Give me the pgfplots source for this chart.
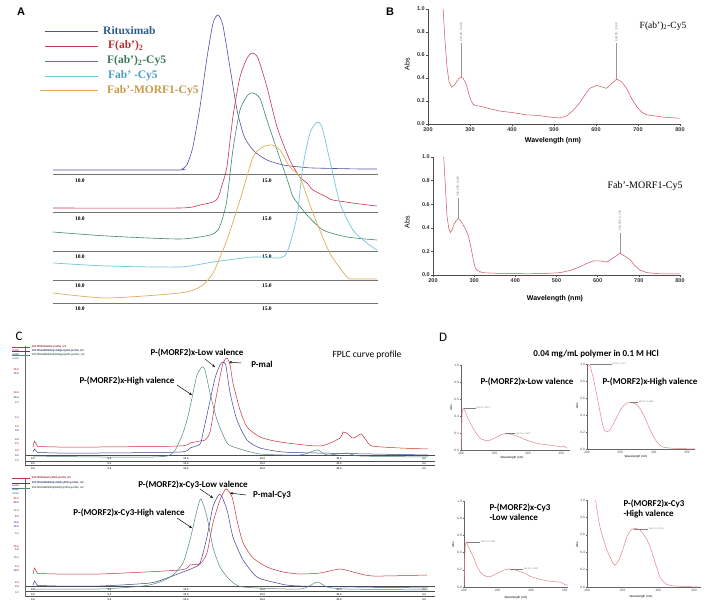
\documentclass[border=0pt]{standalone}
\usepackage{pgfplots}
\pgfplotsset{compat=1.18}
\usepackage{fontspec}
\setmainfont{Liberation Serif}
\newfontfamily\ari{Liberation Sans}
\newfontfamily\calf{Carlito}
\usetikzlibrary{arrows.meta}
\definecolor{aBlue}{HTML}{5050A8}
\definecolor{aRed}{HTML}{C8384E}
\definecolor{aGreen}{HTML}{3E8A6C}
\definecolor{aCyan}{HTML}{74C6DA}
\definecolor{aOrange}{HTML}{E2AE58}
\definecolor{tBlue}{HTML}{2F5E8C}
\definecolor{tRed}{HTML}{B83030}
\definecolor{tGreen}{HTML}{3A7A5A}
\definecolor{tCyan}{HTML}{4A9EC4}
\definecolor{tOrange}{HTML}{C89A48}
\definecolor{bCurve}{HTML}{D05060}
\definecolor{cRed}{HTML}{C8303C}
\definecolor{cBlue}{HTML}{404098}
\definecolor{cGreen}{HTML}{4E8A78}
\definecolor{dCurve}{HTML}{E8848C}
\pgfplotsset{
 bstyle/.style={scale only axis, anchor=south west, xmin=200, xmax=800, ymin=0, ymax=1,
   axis x line=bottom, axis y line=left, axis line style={-, black!70, line width=0.5pt},
   xtick={200,300,...,800}, ytick={0,0.2,0.4,0.6,0.8,1.0}, tick align=outside, major tick length=2pt,
   tick style={black!70, line width=0.4pt},
   yticklabel style={/pgf/number format/.cd, fixed, fixed zerofill, precision=1},
   tick label style={font=\ari\bfseries\fontsize{5.5}{6}\selectfont, text=black!80, inner sep=1pt},
   /pgf/number format/assume math mode=true, clip=false},
 dstyle/.style={scale only axis, anchor=south west, ymin=0, ymax=1,
   axis x line=bottom, axis y line=left, axis line style={-, black!60, line width=0.4pt},
   xtick={200,250,300,350}, ytick={0,0.2,0.4,0.6,0.8,1.0}, tick align=outside, major tick length=1.2pt,
   tick style={black!60, line width=0.3pt},
   yticklabel style={/pgf/number format/.cd, fixed, fixed zerofill, precision=1},
   tick label style={font=\ari\fontsize{3.2}{3.2}\selectfont, text=black!70, inner sep=0.8pt},
   /pgf/number format/assume math mode=true, clip=false},
}
\newcommand{\tinyb}{\ari\bfseries\fontsize{2.6}{3}\selectfont}
\begin{document}
\begin{tikzpicture}[x=1pt,y=1pt]
\fill[white] (0,0) rectangle (707,610);

%================ Panel A =================
\begin{axis}[scale only axis, anchor=south west, at={(53pt,298pt)}, width=325pt, height=312pt,
  xmin=9.28, xmax=17.97, ymin=-312, ymax=0, axis lines=none, clip=false]
\pgfplotsinvokeforeach{174,212,251,280,303}{
  \addplot[black!55, line width=0.6pt] coordinates {(9.28,-#1) (17.97,-#1)};
}
\pgfplotsinvokeforeach{181,219,257,286,309}{
  \node[font=\bfseries\fontsize{5.5}{6}\selectfont] at (axis cs:10,-#1) {10.0};
  \node[font=\bfseries\fontsize{5.5}{6}\selectfont] at (axis cs:15,-#1) {15.0};
}
\addplot[aBlue, line width=0.6pt, smooth, tension=0.4] coordinates {
(9.28,-170)(12.60,-170)(12.73,-169)(12.86,-165)(13.02,-147)(13.21,-107)(13.40,-57)(13.56,-23)(13.69,-15)(13.82,-25)(14.01,-67)(14.20,-110)(14.36,-133)(14.47,-142)(14.68,-152)(15.00,-160)(15.43,-165)(15.88,-167)(16.23,-168)(17.49,-169)(17.94,-169)};
\addplot[aRed, line width=0.6pt, smooth, tension=0.4] coordinates {
(9.28,-208)(12.67,-208)(13.21,-205)(13.56,-202)(13.69,-198)(13.80,-185)(13.93,-167)(14.09,-117)(14.28,-77)(14.47,-58)(14.60,-53)(14.76,-58)(15.00,-87)(15.27,-127)(15.61,-160)(15.88,-177)(16.07,-183)(16.23,-190)(16.60,-197)(16.76,-200)(17.49,-204)(17.94,-206)};
\addplot[aGreen, line width=0.6pt, smooth, tension=0.4] coordinates {
(9.28,-232)(10.72,-236)(12.67,-239)(13.48,-235)(13.69,-230)(13.80,-220)(13.93,-200)(14.09,-150)(14.28,-110)(14.49,-95)(14.63,-93)(14.81,-98)(15.00,-120)(15.27,-150)(15.61,-187)(15.70,-197)(16.07,-215)(16.50,-230)(17.14,-237)(17.94,-240)};
\addplot[aCyan, line width=0.7pt, smooth, tension=0.4] coordinates {
(9.28,-263)(10.72,-266)(12.67,-267)(13.56,-262)(14.63,-257)(15.27,-258)(15.53,-253)(15.80,-217)(15.96,-167)(16.15,-133)(16.34,-122)(16.47,-127)(16.68,-160)(16.95,-203)(17.30,-230)(17.67,-243)(17.94,-250)};
\addplot[aOrange, line width=0.7pt, smooth, tension=0.4] coordinates {
(9.28,-293)(10.72,-298)(12.67,-293)(13.21,-287)(13.56,-273)(13.93,-240)(14.28,-200)(14.63,-157)(14.89,-147)(15.13,-145)(15.35,-150)(15.61,-167)(15.88,-177)(16.23,-213)(16.68,-253)(17.14,-277)(17.30,-279)(17.94,-279)};
\end{axis}
\node[font=\ari\bfseries\fontsize{11}{11}\selectfont] at (21,{610-12}) {A};
\draw[aBlue, line width=0.6pt] (45,{610-31}) -- (98,{610-31});
\draw[aRed, line width=0.6pt] (45,{610-46}) -- (98,{610-46});
\draw[aGreen, line width=0.6pt] (45,{610-61}) -- (98,{610-61});
\draw[aCyan, line width=0.6pt] (45,{610-76}) -- (98,{610-76});
\draw[aOrange, line width=0.6pt] (40,{610-90}) -- (98,{610-90});
\begin{scope}[every node/.style={anchor=west, inner sep=0pt, font=\bfseries\fontsize{11.5}{12}\selectfont}]
\node[text=tBlue] at (103,{610-31}) {Rituximab};
\node[text=tRed] at (108,{610-46}) {F(ab')\textsubscript{2}};
\node[text=tGreen] at (107,{610-61}) {F(ab')\textsubscript{2}-Cy5};
\node[text=tCyan] at (108,{610-76}) {Fab' -Cy5};
\node[text=tOrange] at (107,{610-91}) {Fab'-MORF1-Cy5};
\end{scope}

%================ Panel B =================
\node[font=\ari\bfseries\fontsize{11}{11}\selectfont] at (390,{610-12}) {B};
\begin{axis}[bstyle, at={(428pt,486pt)}, width=252pt, height=115pt]
\addplot[bCurve, line width=0.5pt] coordinates {
(236,1.0)(240,0.75)(245,0.5)(250,0.37)(256,0.32)(260,0.33)(265,0.35)(270,0.38)(275,0.40)(279,0.405)(283,0.40)(288,0.37)(293,0.32)(298,0.25)(303,0.20)(308,0.17)(315,0.16)(330,0.15)(350,0.13)(375,0.11)(400,0.10)(434,0.08)(460,0.075)(490,0.06)(514,0.052)(530,0.07)(546,0.12)(560,0.18)(575,0.26)(585,0.31)(601,0.335)(612,0.325)(625,0.31)(637,0.35)(649,0.39)(660,0.37)(673,0.31)(685,0.22)(697,0.15)(710,0.10)(721,0.08)(740,0.07)(760,0.06)(780,0.055)(800,0.05)};
\draw[gray!80, line width=0.5pt] (axis cs:279,0.405) -- (axis cs:279,0.70);
\draw[gray!80, line width=0.5pt] (axis cs:649,0.39) -- (axis cs:649,0.70);
\node[rotate=90, anchor=west, inner sep=0.5pt, text=gray, font=\ari\fontsize{3}{3}\selectfont] at (axis cs:279,0.71) {278.00, 0.408};
\node[rotate=90, anchor=west, inner sep=0.5pt, text=gray, font=\ari\fontsize{3}{3}\selectfont] at (axis cs:649,0.71) {648.00, 0.388};
\end{axis}
\node[rotate=90, font=\ari\fontsize{7}{7}\selectfont] at (407,{610-64}) {Abs};
\node[font=\ari\bfseries\fontsize{7}{7}\selectfont] at (553,{610-141}) {Wavelength (nm)};
\node[font=\fontsize{9.5}{10}\selectfont] at (663,{610-26}) {F(ab')\textsubscript{2}-Cy5};

\begin{axis}[bstyle, at={(433pt,335pt)}, width=247pt, height=118pt]
\addplot[bCurve, line width=0.5pt] coordinates {
(226,1.0)(230,0.75)(234,0.5)(238,0.40)(242,0.36)(246,0.38)(250,0.42)(256,0.46)(261,0.48)(267,0.46)(274,0.42)(280,0.38)(286,0.33)(293,0.22)(299,0.11)(303,0.06)(307,0.04)(320,0.02)(347,0.015)(400,0.012)(428,0.01)(470,0.012)(509,0.02)(535,0.04)(557,0.07)(575,0.10)(590,0.12)(605,0.12)(622,0.11)(640,0.15)(654,0.185)(666,0.16)(679,0.13)(690,0.08)(703,0.04)(720,0.02)(751,0.01)(800,0.01)};
\draw[gray!80, line width=0.5pt] (axis cs:261,0.48) -- (axis cs:261,0.65);
\draw[gray!80, line width=0.5pt] (axis cs:654,0.19) -- (axis cs:654,0.36);
\node[rotate=90, anchor=west, inner sep=0.5pt, text=gray, font=\ari\fontsize{3}{3}\selectfont] at (axis cs:261,0.66) {260.000, 0.482};
\node[rotate=90, anchor=west, inner sep=0.5pt, text=gray, font=\ari\fontsize{3}{3}\selectfont] at (axis cs:654,0.37) {654.000, 0.190};
\end{axis}
\node[rotate=90, font=\ari\fontsize{7}{7}\selectfont] at (407,{610-222}) {Abs};
\node[font=\ari\bfseries\fontsize{7}{7}\selectfont] at (555,{610-299}) {Wavelength (nm)};
\node[font=\fontsize{10}{10}\selectfont] at (645,{610-186}) {Fab'-MORF1-Cy5};

%================ Panel C =================
\node[font=\calf\fontsize{13}{13}\selectfont] at (19,{610-336}) {C};
\begin{axis}[scale only axis, anchor=south west, at={(25pt,0pt)}, width=410pt, height=280pt,
  xmin=-0.52, xmax=26.27, ymin=-610, ymax=-330, axis lines=none, clip=false]
\pgfplotsinvokeforeach{455,461,465,586,591,596}{
  \addplot[black!70, line width=0.4pt] coordinates {(-0.52,-#1) (26.27,-#1)};
}
\pgfplotsinvokeforeach{458.5,463.5,468.5,589.5,594.5,599.5}{
  \node[font=\tinyb, text=black!80] at (axis cs:0,-#1) {0.0};
  \node[font=\tinyb, text=black!80] at (axis cs:5,-#1) {5.0};
  \node[font=\tinyb, text=black!80] at (axis cs:10,-#1) {10.0};
  \node[font=\tinyb, text=black!80] at (axis cs:15,-#1) {15.0};
  \node[font=\tinyb, text=black!80] at (axis cs:20,-#1) {20.0};
  \node[font=\tinyb, text=black!80] at (axis cs:25.55,-#1) {ml};
}
% injection spikes (straight segments)
\addplot[cRed, line width=0.5pt] coordinates {(0,-447)(0.1,-441)(0.3,-446.5)(1.5,-447)};
\addplot[cBlue, line width=0.5pt] coordinates {(0,-452)(0.1,-449)(0.3,-452.5)(1.5,-453)};
\addplot[cRed, line width=0.5pt] coordinates {(0,-574)(0.1,-568)(0.3,-573.5)(1.5,-574)};
\addplot[cBlue, line width=0.5pt] coordinates {(0,-585)(0.1,-581)(0.3,-585.5)(1.5,-586)};
% top chromatograms
\addplot[cRed, line width=0.5pt, smooth, tension=0.4] coordinates {
(1.5,-447)(4.38,-447)(9.61,-446)(10.26,-443)(10.92,-441)(11.24,-440)(11.57,-432)(11.90,-403)(12.22,-377)(12.42,-363)(12.68,-358)(12.88,-365)(13.07,-383)(13.53,-410)(13.99,-427)(14.84,-437)(16.14,-442)(18.76,-446)(20.07,-438)(20.26,-432)(20.59,-434)(20.85,-438)(21.11,-437)(21.44,-434)(21.76,-440)(22.16,-446)(23.99,-448)(25.82,-449)};
\addplot[cBlue, line width=0.5pt, smooth, tension=0.4] coordinates {
(1.5,-453)(4.38,-453)(9.61,-452)(10.26,-448)(10.92,-444)(11.11,-433)(11.44,-410)(11.90,-378)(12.22,-365)(12.42,-362)(12.61,-366)(12.88,-393)(13.33,-420)(13.99,-440)(14.84,-448)(16.34,-452)(18.56,-453)(25.82,-455)};
\addplot[cGreen, line width=0.5pt, smooth, tension=0.4] coordinates {
(0,-456)(4.38,-457)(8.76,-456)(9.61,-440)(10.07,-420)(10.46,-393)(10.72,-375)(11.05,-367)(11.24,-370)(11.57,-393)(12.03,-420)(12.68,-443)(13.33,-448)(14.84,-454)(17.45,-455)(18.56,-450)(19.22,-455)(20.52,-453)(21.37,-456)(25.82,-457)};
% bottom chromatograms
\addplot[cRed, line width=0.5pt, smooth, tension=0.4] coordinates {
(1.5,-574)(4.38,-574)(9.61,-570)(10.26,-565)(10.92,-564)(11.37,-553)(11.76,-523)(12.22,-500)(12.61,-489)(13.01,-497)(13.33,-520)(13.73,-543)(14.38,-558)(15.29,-567)(16.34,-572)(17.45,-574)(18.76,-573)(20.07,-569)(20.92,-572)(22.22,-576)(25.75,-575)};
\addplot[cBlue, line width=0.5pt, smooth, tension=0.4] coordinates {
(1.5,-586)(4.38,-586)(7.65,-583)(8.76,-578)(9.80,-572)(10.46,-568)(10.92,-563)(11.37,-537)(11.76,-507)(12.22,-494)(12.68,-510)(13.07,-537)(13.73,-560)(14.64,-577)(15.95,-583)(17.45,-586)(25.82,-588)};
\addplot[cGreen, line width=0.5pt, smooth, tension=0.4] coordinates {
(0,-589)(4.38,-589)(7.19,-586)(8.30,-582)(9.15,-575)(9.80,-563)(10.26,-540)(10.72,-510)(10.98,-499)(11.37,-517)(11.76,-547)(12.22,-567)(12.88,-580)(13.73,-587)(17.45,-589)(18.56,-582)(19.22,-587)(20.5,-589)(25.82,-590)};
\end{axis}
\draw[black!60, line width=0.4pt] (25,{610-346}) -- (25,{610-465});
\draw[black!60, line width=0.4pt] (25,{610-478}) -- (25,{610-597});
% C legends
\draw[cRed, line width=0.4pt] (12,{610-347}) -- (30,{610-347});
\draw[cBlue, line width=0.4pt] (12,{610-351}) -- (30,{610-351});
\draw[cGreen, line width=0.4pt] (12,{610-355}) -- (30,{610-355});
\node[anchor=west, inner sep=0pt, font=\tinyb, text=cRed!70!black] at (32,{610-347}) {20170509mal001.profile\_UV};
\node[anchor=west, inner sep=0pt, font=\tinyb, text=cBlue!70!black] at (32,{610-351}) {20170516MORF2(LOW)poly001.profile\_UV};
\node[anchor=west, inner sep=0pt, font=\tinyb, text=cGreen!70!black] at (32,{610-355}) {20170516MORF2(HIGH)poly001.profile\_UV};
\draw[cRed, line width=0.4pt] (12,{610-478}) -- (30,{610-478});
\draw[cBlue, line width=0.4pt] (12,{610-483}) -- (30,{610-483});
\draw[cGreen, line width=0.4pt] (12,{610-488}) -- (30,{610-488});
\node[anchor=west, inner sep=0pt, font=\tinyb, text=cRed!70!black] at (32,{610-478}) {20170509malCy3001.profile\_UV};
\node[anchor=west, inner sep=0pt, font=\tinyb, text=cBlue!70!black] at (32,{610-483}) {20170516MORF2(LOW)Cy3001.profile\_UV};
\node[anchor=west, inner sep=0pt, font=\tinyb, text=cGreen!70!black] at (32,{610-488}) {20170516MORF2(HIGH)Cy3001.profile\_UV};
% C y labels
\begin{scope}[every node/.style={anchor=east, inner sep=0pt, font=\tinyb}]
\node[text=cRed] at (19,{610-351}) {mAU};
\node[text=cBlue] at (19,{610-355}) {mAU};
\node[text=cGreen] at (19,{610-359}) {mAU};
\node[text=cRed] at (19,{610-370}) {35.0};
\node[text=cBlue] at (19,{610-374}) {15.0};
\node[text=cRed] at (19,{610-393}) {10.0};
\node[text=cBlue] at (19,{610-398}) {15.0};
\node[text=cGreen] at (19,{610-403}) {8.0};
\node[text=cGreen] at (19,{610-418}) {6.0};
\node[text=cRed] at (19,{610-427}) {5.0};
\node[text=cBlue] at (19,{610-431}) {4.0};
\node[text=cBlue] at (19,{610-440}) {3.0};
\node[text=cRed] at (19,{610-444}) {2.0};
\node[text=cRed] at (19,{610-451}) {0.0};
\node[text=cBlue] at (19,{610-456}) {0.0};
\node[text=cGreen] at (19,{610-461}) {0.0};
\node[text=cRed] at (19,{610-486}) {mAU};
\node[text=cBlue] at (19,{610-490}) {mAU};
\node[text=cGreen] at (19,{610-494}) {mAU};
\node[text=cRed] at (19,{610-499}) {35.0};
\node[text=cBlue] at (19,{610-503}) {20.0};
\node[text=cGreen] at (19,{610-511}) {15.0};
\node[text=cRed] at (19,{610-517}) {8.0};
\node[text=cBlue] at (19,{610-523}) {10.0};
\node[text=cBlue] at (19,{610-527}) {15.0};
\node[text=cGreen] at (19,{610-534}) {6.0};
\node[text=cRed] at (19,{610-547}) {10.0};
\node[text=cBlue] at (19,{610-550}) {5.0};
\node[text=cGreen] at (19,{610-558}) {15.0};
\node[text=cRed] at (19,{610-567}) {5.0};
\node[text=cBlue] at (19,{610-571}) {10.0};
\node[text=cRed] at (19,{610-583}) {2.0};
\node[text=cBlue] at (19,{610-587}) {0.0};
\node[text=cGreen] at (19,{610-593}) {0.0};
\end{scope}
% C annotations
\begin{scope}[every node/.style={inner sep=0pt, font=\calf\bfseries\fontsize{9}{9}\selectfont}]
\node at (197,{610-353}) {P-(MORF2)x-Low valence};
\node at (262,{610-364}) {P-mal};
\node at (127,{610-381}) {P-(MORF2)x-High valence};
\node at (193,{610-485}) {P-(MORF2)x-Cy3-Low valence};
\node at (272,{610-495}) {P-mal-Cy3};
\node at (129,{610-513}) {P-(MORF2)x-Cy3-High valence};
\end{scope}
\node[inner sep=0pt, font=\calf\fontsize{9.5}{10}\selectfont] at (367,{610-355}) {FPLC curve profile};
\begin{scope}[-{Stealth[length=3pt,width=2.4pt]}, line width=0.45pt]
\draw (205,{610-359}) -- (215,{610-367});
\draw (241,{610-363}) -- (229,{610-362});
\draw (177,{610-385}) -- (192,{610-395});
\draw (200,{610-489}) -- (213,{610-498});
\draw (246,{610-495}) -- (230,{610-493});
\draw (177,{610-518}) -- (192,{610-528});
\end{scope}

%================ Panel D =================
\node[font=\calf\fontsize{13}{13}\selectfont] at (443,{610-337}) {D};
\node[font=\calf\bfseries\fontsize{9}{9}\selectfont] at (596,{610-354}) {0.04 mg/mL polymer in 0.1 M HCl};

\begin{axis}[dstyle, at={(461pt,160pt)}, width=109pt, height=85pt, xmin=200, xmax=363]
\addplot[dCurve, line width=0.5pt] coordinates {
(200,0.02)(201,0.3)(202,0.47)(204,0.49)(206,0.46)(210,0.38)(215,0.30)(220,0.23)(225,0.17)(230,0.13)(235,0.115)(240,0.11)(245,0.12)(250,0.14)(255,0.16)(260,0.18)(265,0.19)(270,0.19)(275,0.185)(280,0.175)(285,0.16)(290,0.145)(295,0.125)(300,0.11)(310,0.085)(320,0.07)(330,0.06)(340,0.05)(345,0.045)(350,0.035)(354,0.045)(359,0.02)};
\draw[gray, line width=0.35pt] (axis cs:204,0.49) -- (axis cs:222,0.49) node[right, inner sep=0.5pt, font=\ari\fontsize{2.2}{2.5}\selectfont, text=gray] {203.00, 0.497};
\draw[gray, line width=0.35pt] (axis cs:266,0.195) -- (axis cs:281,0.195) node[right, inner sep=0.5pt, font=\ari\fontsize{2.2}{2.5}\selectfont, text=gray] {266.00, 0.1937};
\end{axis}
\node[rotate=90, font=\ari\fontsize{3}{3}\selectfont] at (451,{610-408}) {Abs};
\node[font=\ari\fontsize{3}{3}\selectfont] at (512,{610-458}) {Wavelength (nm)};
\node[font=\calf\bfseries\fontsize{9}{9}\selectfont] at (527,{610-382}) {P-(MORF2)x-Low valence};

\begin{axis}[dstyle, at={(587pt,161pt)}, width=108pt, height=85pt, xmin=200, xmax=362]
\addplot[dCurve, line width=0.5pt] coordinates {
(202,1.0)(205,0.97)(210,0.82)(215,0.62)(220,0.42)(223,0.30)(226,0.22)(230,0.20)(234,0.22)(240,0.30)(245,0.38)(250,0.46)(255,0.51)(260,0.54)(265,0.55)(270,0.54)(275,0.52)(280,0.47)(285,0.40)(290,0.31)(295,0.22)(300,0.14)(305,0.08)(310,0.04)(315,0.02)(325,0.01)(340,0.005)(362,0.0)};
\draw[gray, line width=0.35pt] (axis cs:204,1.0) -- (axis cs:237,1.0) node[right, inner sep=0.5pt, font=\ari\fontsize{2.2}{2.5}\selectfont, text=gray] {202.00, 1.021};
\draw[gray, line width=0.35pt] (axis cs:265,0.55) -- (axis cs:277,0.55) node[right, inner sep=0.5pt, font=\ari\fontsize{2.2}{2.5}\selectfont, text=gray] {265.00, 0.5496};
\end{axis}
\node[rotate=90, font=\ari\fontsize{3}{3}\selectfont] at (577,{610-406}) {Abs};
\node[font=\ari\fontsize{3}{3}\selectfont] at (636,{610-457}) {Wavelength (nm)};
\node[font=\calf\bfseries\fontsize{9}{9}\selectfont] at (650,{610-382}) {P-(MORF2)x-High valence};

\begin{axis}[dstyle, at={(464pt,23pt)}, width=104pt, height=86pt, xmin=200, xmax=355]
\addplot[dCurve, line width=0.5pt] coordinates {
(200,0.02)(201,0.3)(202,0.5)(203.5,0.525)(206,0.48)(210,0.41)(214,0.35)(219,0.25)(224,0.175)(229,0.14)(234,0.12)(239,0.12)(245,0.14)(250,0.16)(255,0.18)(260,0.20)(268,0.21)(275,0.20)(280,0.19)(290,0.16)(300,0.12)(313,0.09)(325,0.07)(338,0.06)(345,0.055)(350,0.03)(355,0.02)};
\draw[gray, line width=0.35pt] (axis cs:204,0.52) -- (axis cs:224,0.52) node[right, inner sep=0.5pt, font=\ari\fontsize{2.2}{2.5}\selectfont, text=gray] {203.00, 0.5246};
\draw[gray, line width=0.35pt] (axis cs:268,0.21) -- (axis cs:288,0.21) node[right, inner sep=0.5pt, font=\ari\fontsize{2.2}{2.5}\selectfont, text=gray] {268.00, 0.2097};
\end{axis}
\node[rotate=90, font=\ari\fontsize{3}{3}\selectfont] at (453,{610-545}) {Abs};
\node[font=\ari\fontsize{3}{3}\selectfont] at (516,{610-598}) {Wavelength (nm)};
\node[anchor=west, align=left, font=\calf\bfseries\fontsize{9}{10.5}\selectfont] at (486,{610-512}) {P-(MORF2)x-Cy3\\-Low valence};

\begin{axis}[dstyle, at={(587pt,23pt)}, width=114pt, height=87pt, xmin=200, xmax=360]
\addplot[dCurve, line width=0.5pt] coordinates {
(212,1.0)(216,0.78)(219,0.66)(223,0.55)(228,0.42)(232,0.35)(236,0.28)(239,0.25)(242,0.27)(246,0.33)(251,0.45)(256,0.58)(261,0.65)(265,0.67)(270,0.67)(274,0.66)(279,0.61)(284,0.55)(289,0.45)(293,0.35)(298,0.22)(302,0.12)(307,0.06)(312,0.03)(318,0.015)(326,0.01)(340,0.005)(356,0.0)};
\draw[gray, line width=0.35pt] (axis cs:266,0.67) -- (axis cs:286,0.67) node[right, inner sep=0.5pt, font=\ari\fontsize{2.2}{2.5}\selectfont, text=gray] {266.00, 0.6704};
\end{axis}
\node[rotate=90, font=\ari\fontsize{3}{3}\selectfont] at (577,{610-545}) {Abs};
\node[font=\ari\fontsize{3}{3}\selectfont] at (641,{610-597}) {Wavelength (nm)};
\node[anchor=west, align=left, font=\calf\bfseries\fontsize{9}{10.5}\selectfont] at (620,{610-509}) {P-(MORF2)x-Cy3\\-High valence};

\pgfresetboundingbox
\path[use as bounding box] (0,0) rectangle (707,610);
\end{tikzpicture}
\end{document}
